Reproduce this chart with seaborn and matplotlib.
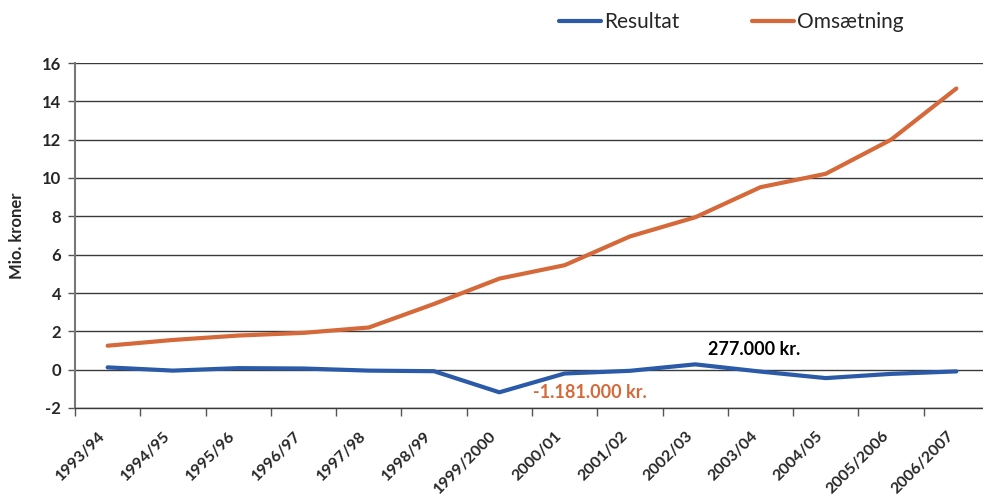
import matplotlib
matplotlib.use('Agg')
import matplotlib.pyplot as plt
import seaborn as sns
import pandas as pd
from matplotlib.lines import Line2D

# data (mio. kroner)
seasons = ['1993/94', '1994/95', '1995/96', '1996/97', '1997/98', '1998/99', '1999/2000',
           '2000/01', '2001/02', '2002/03', '2003/04', '2004/05', '2005/2006', '2006/2007']
resultat = [0.12, -0.05, 0.08, 0.06, -0.05, -0.08, -1.181,
            -0.20, -0.06, 0.277, -0.10, -0.44, -0.22, -0.09]
omsaetning = [1.25, 1.55, 1.78, 1.92, 2.20, 3.43, 4.75,
              5.45, 6.95, 7.95, 9.52, 10.22, 12.0, 14.67]
y_ticks = [-2, 0, 2, 4, 6, 8, 10, 12, 14, 16]

BLUE = '#2a5aa8'
ORANGE = '#d5693a'

df = pd.DataFrame({'pos': range(len(seasons)), 'Resultat': resultat, 'Omsætning': omsaetning})
long = df.melt(id_vars='pos', var_name='serie', value_name='value')

sns.set_style('white')
plt.rcParams['font.family'] = ['Lato', 'DejaVu Sans']

fig = plt.figure(figsize=(9.83, 5.0), dpi=100)
ax = fig.add_axes([75 / 983, 1 - 408 / 500, (989 - 75) / 983, (408 - 63) / 500])

# horizontal grid lines
for v in y_ticks:
    ax.axhline(v, color='#3a3a3a', lw=1.0, zorder=0)

sns.lineplot(data=long, x='pos', y='value', hue='serie',
             palette={'Resultat': BLUE, 'Omsætning': ORANGE},
             linewidth=3, ax=ax, legend=False, zorder=3)

ax.set_xlim(-0.5, len(seasons) - 0.5)
ax.set_ylim(-2, 16)

# y axis
ax.set_yticks(y_ticks)
ax.set_yticklabels([str(v) for v in y_ticks], fontsize=12, fontweight='bold')
ax.tick_params(axis='y', length=5, width=1, color='#555555', pad=5, left=True)
ax.set_ylabel('Mio. kroner', fontsize=12, fontweight='bold', labelpad=12)

# x axis: tick marks at category boundaries, labels at centers
ax.set_xticks([i - 0.5 for i in range(len(seasons))])
ax.set_xticklabels([])
ax.tick_params(axis='x', length=6, width=1, color='#555555', bottom=True)
ax.set_xticks([i - 0.15 for i in range(len(seasons))], minor=True)
ax.set_xticklabels(seasons, minor=True, rotation=45, ha='right', va='top',
                   rotation_mode='anchor', fontsize=11.5, fontweight='bold')
ax.tick_params(axis='x', which='minor', length=0, pad=15)
ax.set_xlabel('')

for s in ['top', 'right']:
    ax.spines[s].set_visible(False)
ax.spines['left'].set_color('#777777')
ax.spines['left'].set_linewidth(1.5)
ax.spines['bottom'].set_color('#3a3a3a')
ax.spines['bottom'].set_linewidth(1.0)

# annotations
ax.text(9.19, 1.04, '277.000 kr.', fontsize=13, fontweight='bold', color='black', va='center')
ax.text(6.51, -1.2, '-1.181.000 kr.', fontsize=13, fontweight='bold', color=ORANGE, va='center')

# legend
handles = [Line2D([], [], color=BLUE, lw=3), Line2D([], [], color=ORANGE, lw=3)]
fig.legend(handles, ['Resultat', 'Omsætning'], loc='center', bbox_to_anchor=(0.744, 0.955),
           ncol=2, frameon=False, fontsize=15, handlelength=2, handletextpad=0.15,
           columnspacing=3.5)

fig.savefig('out.png', dpi=100)
